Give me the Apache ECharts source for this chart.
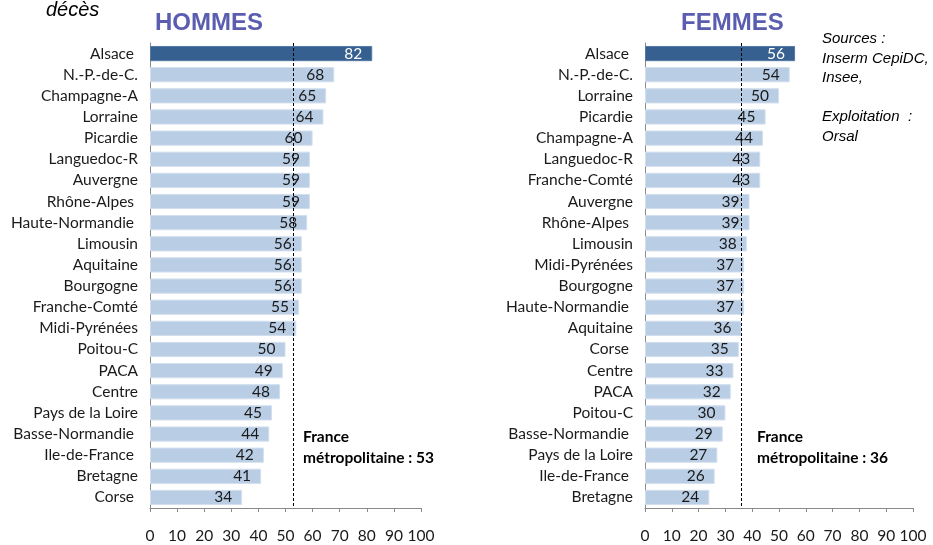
<!DOCTYPE html>
<html>
<head>
<meta charset="utf-8">
<script src="https://cdn.jsdelivr.net/npm/echarts@6/dist/echarts.min.js"></script>
<style>
  html, body { margin: 0; padding: 0; background: #fff; }
  #chart { width: 933px; height: 545px; }
</style>
</head>
<body>
<div id="chart"></div>
<script>
// Hommes
const menRegions = ['Alsace ', 'N.-P.-de-C.', 'Champagne-A', 'Lorraine', 'Picardie', 'Languedoc-R', 'Auvergne', 'Rhône-Alpes ',
  'Haute-Normandie ', 'Limousin', 'Aquitaine', 'Bourgogne', 'Franche-Comté', 'Midi-Pyrénées', 'Poitou-C', 'PACA', 'Centre',
  'Pays de la Loire', 'Basse-Normandie ', 'Ile-de-France ', 'Bretagne', 'Corse ']
const menValues = [82, 68, 65, 64, 60, 59, 59, 59, 58, 56, 56, 56, 55, 54, 50, 49, 48, 45, 44, 42, 41, 34]
const menFrance = 53

// Femmes
const womenRegions = ['Alsace ', 'N.-P.-de-C.', 'Lorraine', 'Picardie', 'Champagne-A', 'Languedoc-R', 'Franche-Comté', 'Auvergne',
  'Rhône-Alpes ', 'Limousin', 'Midi-Pyrénées', 'Bourgogne', 'Haute-Normandie ', 'Aquitaine', 'Corse ', 'Centre', 'PACA',
  'Poitou-C', 'Basse-Normandie ', 'Pays de la Loire', 'Ile-de-France ', 'Bretagne']
const womenValues = [56, 54, 50, 45, 44, 43, 43, 39, 39, 38, 37, 37, 37, 36, 35, 33, 32, 30, 29, 27, 26, 24]
const womenFrance = 36

const xTicks = [0, 10, 20, 30, 40, 50, 60, 70, 80, 90, 100]

const FONT = 'Lato'
const DARK = '#35608f'
const LIGHT = '#b9cde5'

function barData(values) {
  return values.map((v, i) => i === 0
    ? { value: v, itemStyle: { color: DARK, borderColor: '#5579a6' }, label: { color: '#fff' } }
    : v)
}

function makeSeries(idx, values, france) {
  return {
    type: 'bar',
    xAxisIndex: idx,
    yAxisIndex: idx,
    data: barData(values),
    barCategoryGap: '28%',
    itemStyle: { color: LIGHT, borderColor: '#d3dfee', borderWidth: 1 },
    label: {
      show: true,
      position: 'insideRight',
      distance: 10,
      color: '#1a1a1a',
      fontFamily: FONT,
      fontSize: 15.5
    },
    markLine: {
      silent: true,
      symbol: 'none',
      label: { show: false },
      lineStyle: { color: '#000', type: [3, 2], width: 1 },
      data: [{ xAxis: france }]
    }
  }
}

const chart = echarts.init(document.getElementById('chart'))

const xAxisBase = {
  type: 'value',
  min: 0,
  max: 100,
  interval: 10,
  splitLine: { show: false },
  axisLine: { show: true, lineStyle: { color: '#8a8a8a' } },
  axisTick: { show: true, length: 4, lineStyle: { color: '#8a8a8a' } },
  axisLabel: { color: '#1a1a1a', fontFamily: FONT, fontSize: 15.5, margin: 20,
    formatter: (v) => xTicks.includes(v) ? String(v) : '' }
}

const yAxisBase = {
  type: 'category',
  inverse: true,
  axisLine: { show: true, lineStyle: { color: '#8a8a8a' } },
  axisTick: { show: false },
  axisLabel: { color: '#1a1a1a', fontFamily: FONT, fontSize: 15.5, margin: 12 }
}

chart.setOption({
  animation: false,
  title: [
    { text: 'HOMMES', left: 150, top: 6, textStyle: { fontFamily: 'Liberation Sans', fontSize: 24, fontWeight: 'bold', color: '#5b5db0' } },
    { text: 'FEMMES', left: 676, top: 6, textStyle: { fontFamily: 'Liberation Sans', fontSize: 24, fontWeight: 'bold', color: '#5b5db0' } }
  ],
  grid: [
    { left: 150, right: 512, top: 43, bottom: 37 },
    { left: 645, right: 20, top: 43, bottom: 37 }
  ],
  xAxis: [
    Object.assign({ gridIndex: 0 }, xAxisBase),
    Object.assign({ gridIndex: 1 }, xAxisBase)
  ],
  yAxis: [
    Object.assign({ gridIndex: 0, data: menRegions }, yAxisBase),
    Object.assign({ gridIndex: 1, data: womenRegions }, yAxisBase)
  ],
  series: [
    makeSeries(0, menValues, menFrance),
    makeSeries(1, womenValues, womenFrance)
  ],
  graphic: [
    { type: 'text', left: 46, top: 0, style: { text: 'décès', font: 'italic 20px "Liberation Sans"', fill: '#000' } },
    { type: 'text', left: 303, top: 426, style: { text: 'France\nmétropolitaine : ' + menFrance, font: 'bold 15.5px Lato', lineHeight: 21, fill: '#000' } },
    { type: 'text', left: 757, top: 426, style: { text: 'France\nmétropolitaine : ' + womenFrance, font: 'bold 15.5px Lato', lineHeight: 21, fill: '#000' } },
    { type: 'text', left: 822, top: 29, style: { text: 'Sources :\nInserm CepiDC,\nInsee,\n\nExploitation  :\nOrsal', font: 'italic 15px "Liberation Sans"', lineHeight: 19.6, fill: '#000' } }
  ]
})
</script>
</body>
</html>
